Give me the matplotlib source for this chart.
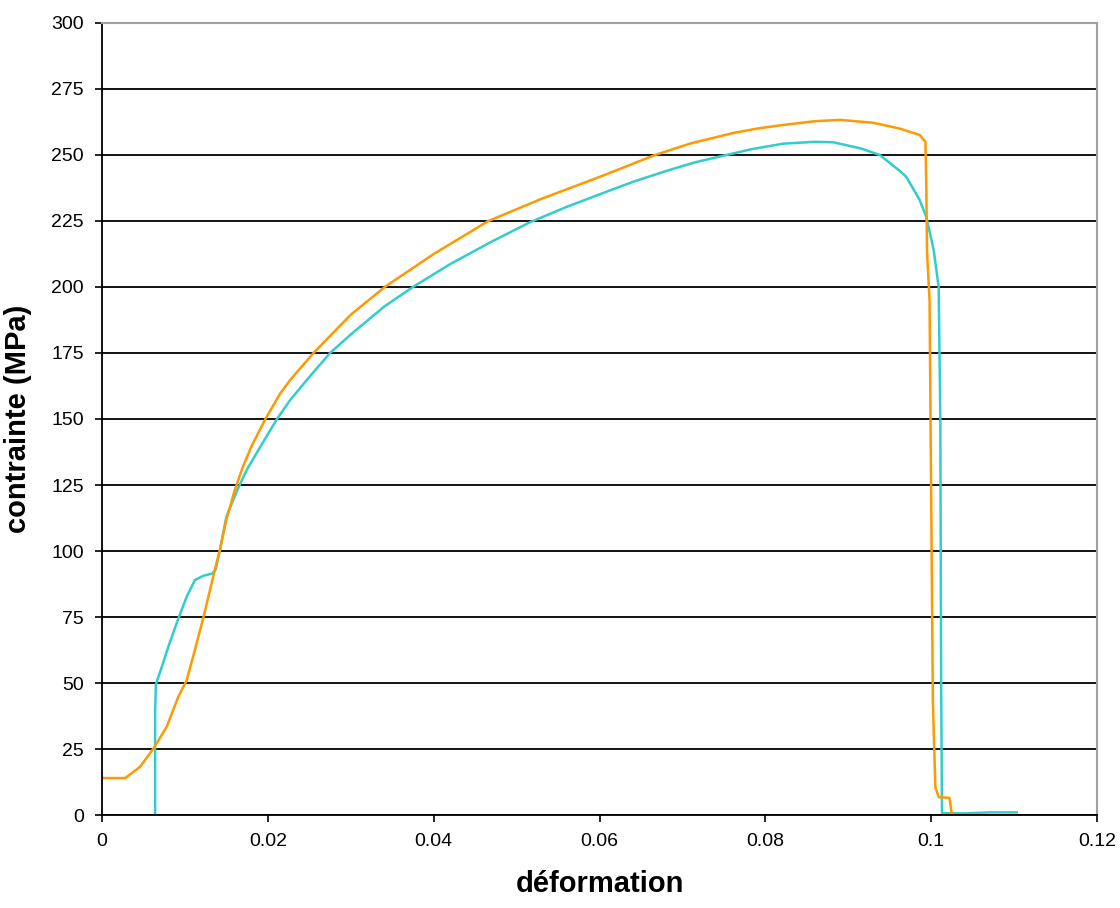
import matplotlib
matplotlib.use("Agg")
import matplotlib.pyplot as plt
from matplotlib.ticker import FuncFormatter

plt.rcParams['font.family'] = ['Liberation Sans', 'DejaVu Sans']

# Turquoise curve (strain, stress in MPa)
cyan_x = [0.0064, 0.0064, 0.0065, 0.0072, 0.0080, 0.0092, 0.0102, 0.0112, 0.0122, 0.0133,
          0.0137, 0.0142, 0.0150, 0.0163, 0.0175, 0.0190, 0.0211, 0.0227, 0.0247, 0.0275,
          0.0300, 0.0340, 0.0375, 0.0420, 0.0470, 0.0516, 0.0560, 0.0601, 0.0640, 0.0681,
          0.0715, 0.0753, 0.0785, 0.0822, 0.0860, 0.0882, 0.0915, 0.0938, 0.0962, 0.0970,
          0.0986, 0.0994, 0.1003, 0.1009, 0.1011, 0.1012, 0.1013, 0.1040, 0.1070, 0.1103]
cyan_y = [0, 39, 49.6, 56, 63.8, 74.4, 82.6, 89, 90.6, 91.5,
          93, 100, 113, 123, 131, 139, 150, 157.2, 164.8, 175,
          182, 192.5, 200, 208.7, 217.2, 224.5, 230.3, 235.2, 239.8, 244,
          247.2, 250, 252.3, 254.3, 255, 254.8, 252.5, 250, 244, 241.7,
          233, 226.6, 214, 200, 150, 50, 0.7, 0.6, 1.0, 1.0]

# Orange curve
orange_x = [0, 0.0028, 0.0046, 0.0062, 0.0078, 0.0092, 0.0102, 0.0112, 0.0122, 0.0134,
            0.0142, 0.0150, 0.0160, 0.0170, 0.0180, 0.0197, 0.0215, 0.0227, 0.0255, 0.0300,
            0.0341, 0.0400, 0.0466, 0.0530, 0.0601, 0.0667, 0.0710, 0.0761, 0.0790, 0.0822,
            0.0860, 0.0890, 0.0930, 0.0962, 0.0986, 0.0993, 0.0994, 0.0995, 0.0998, 0.1001,
            0.1002, 0.1005, 0.1009, 0.1022, 0.1025]
orange_y = [14, 14, 18.3, 25.2, 33.4, 44.8, 51, 62.5, 74.5, 90.2,
            100.4, 112, 123, 132, 139.5, 150, 159.7, 164.8, 175, 189.5,
            200, 212.5, 225, 233.4, 241.8, 250, 254.4, 258.3, 260, 261.4,
            262.8, 263.3, 262.2, 260, 257.6, 255, 240, 213, 195, 81,
            43, 10.6, 6.8, 6.5, 0]

x_ticks = [0, 0.02, 0.04, 0.06, 0.08, 0.1, 0.12]
y_ticks = list(range(0, 301, 25))

fig = plt.figure(figsize=(11.2, 9.08), dpi=100)
ax = fig.add_axes([0.0911, 0.1024, 0.8884, 0.8723])

# Horizontal grid lines
ax.set_axisbelow(True)
ax.yaxis.grid(True, color='black', linewidth=1.3)

ax.plot(cyan_x, cyan_y, color='#33CCCC', linewidth=1.8)
ax.plot(orange_x, orange_y, color='#FF9900', linewidth=1.8)

ax.set_xlim(0, 0.12)
ax.set_ylim(0, 300)
ax.set_xticks(x_ticks)
ax.set_yticks(y_ticks)
ax.xaxis.set_major_formatter(FuncFormatter(lambda v, p: '%g' % round(v, 4)))

ax.tick_params(axis='both', direction='out', length=5, width=1.2, labelsize=14, colors='black')
ax.tick_params(axis='y', pad=8)
ax.tick_params(axis='x', pad=8)

# Axis frame: black left/bottom, grey top/right
for side in ['left', 'bottom']:
    ax.spines[side].set_color('black')
    ax.spines[side].set_linewidth(1.3)
for side in ['top', 'right']:
    ax.spines[side].set_color('#A0A0A0')
    ax.spines[side].set_linewidth(1.5)

ax.set_xlabel('déformation', fontsize=21, fontweight='bold', labelpad=14)
ax.set_ylabel('contrainte (MPa)', fontsize=21, fontweight='bold', labelpad=14)

plt.savefig('out.png', dpi=100)
plt.close()
